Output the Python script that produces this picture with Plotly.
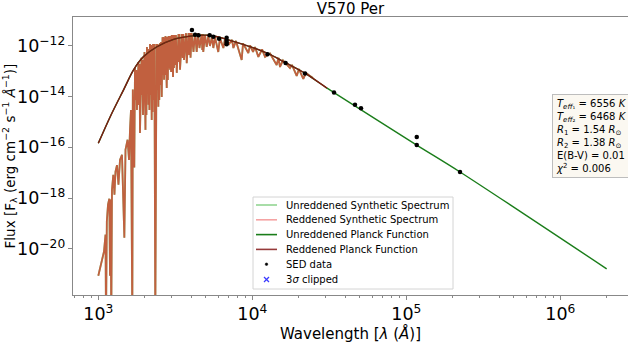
import plotly.graph_objects as go

# ---------------- data ----------------
spec_wave = [1000, 1041, 1089, 1114, 1122, 1136, 1156, 1179, 1191, 1203, 1214, 1227, 1251, 1273,
             1293, 1322, 1352, 1383, 1425, 1476, 1502, 1549, 1583, 1606, 1630, 1663, 1675, 1713,
             1730, 1750, 1765, 1782, 1823, 1838, 1852, 1865, 1908, 1922, 1936, 1951, 1995, 2024,
             2037, 2053, 2070, 2087, 2102, 2118, 2131, 2147, 2166, 2186, 2202, 2222, 2236, 2249,
             2266, 2289, 2313, 2345, 2388, 2409, 2430, 2455, 2471, 2489, 2518, 2538, 2557, 2582,
             2612, 2631, 2651, 2673, 2691, 2711, 2731, 2782, 2802, 2827, 2858, 2878, 2900, 2924,
             2944, 2970, 2999, 3057, 3078, 3101, 3126, 3158, 3191, 3231, 3318, 3342, 3367, 3394,
             3495, 3532, 3564, 3602, 3713, 3751, 3855, 3893, 3928, 3972, 4038, 4150, 4245, 4355,
             4440, 4540, 4692, 4734, 4770, 4805, 4930, 5058, 5178, 5309, 5470, 5585, 5728, 6012,
             6166, 6486, 6651, 7063, 7385, 7536, 7834, 8531, 8706, 9424, 9664, 10112, 10417, 10946,
             11570, 12100, 13040, 14400, 14790, 15130, 15820, 17570, 18100, 19420, 20100, 21430,
             22320, 23700, 24780]
spec_flux = [8.7e-22, 2.4e-21, 7.8e-21, 3.6e-20, 1e-23, 1.2e-19, 5.5e-19, 9.5e-19, 8.7e-22, 8.7e-19,
             1e-23, 2.1e-18, 8.3e-18, 1.35e-18, 1.1e-17, 2.0e-17, 3.4e-18, 3.2e-17, 5.1e-17, 2.75e-20,
             8.1e-17, 2.0e-16, 3.2e-17, 4.9e-16, 3.0e-15, 1e-23, 1.9e-14, 1.6e-17,
             1.35e-13, 7.45e-15, 1.13e-13, 3.0e-15, 2.3e-13, 4.73e-15, 1.95e-13, 3.7e-16, 3.4e-13,
             1.17e-14, 2.8e-13, 1.9e-15, 5.8e-13, 4.9e-16,
             4.4e-13, 1.91e-15, 9.1e-13, 1.85e-14, 7.6e-13, 4.8e-15, 6.95e-13, 3.0e-15, 1.2e-12,
             1.17e-14, 1.09e-12, 1.2e-15, 1.0e-12, 2.5e-15,
             1.2e-12, 7.45e-15, 1.2e-12, 1e-23, 1.2e-12, 1.85e-14, 1.2e-12, 4.0e-15, 1.09e-12,
             7.45e-15, 1.3e-12, 2.9e-14, 1.44e-12, 9.8e-15,
             2.2e-12, 7.2e-14, 2.26e-12, 4.6e-14, 2.07e-12, 7.2e-14, 2.45e-12, 2.2e-14, 2.26e-12,
             4.57e-14, 2.45e-12, 1.36e-13, 2.48e-12, 1.15e-13,
             2.48e-12, 9.4e-14, 2.7e-12, 6.0e-14, 2.71e-12, 1.36e-13, 2.7e-12, 1.78e-13, 2.71e-12,
             8.7e-14, 2.95e-12, 2.34e-13, 2.97e-12, 1.15e-13,
             2.95e-12, 3.37e-13, 2.97e-12, 2.8e-13, 3.2e-12, 2.1e-13, 3.2e-12, 4.4e-13, 3.25e-12,
             3.4e-13, 3.2e-12, 5.8e-13, 3.2e-12, 5.8e-13,
             3.2e-12, 8.3e-13, 2.95e-12, 6.95e-13, 2.97e-12, 5.8e-13, 2.7e-12, 9.1e-13, 2.45e-12,
             1.0e-12, 2.24e-12, 8.3e-13, 2.24e-12, 5.8e-13,
             2.04e-12, 8.3e-13, 1.9e-12, 1.2e-12, 1.74e-12, 8.3e-13, 1.58e-12, 2.8e-13, 1.26e-12,
             5.25e-13, 1.05e-12, 5.8e-13, 9.1e-13, 3.7e-13,
             7.3e-13, 3.7e-13, 5.0e-13, 1.78e-13, 3.4e-13, 1.48e-13, 2.7e-13, 1.35e-13, 1.78e-13,
             6.6e-14, 1.23e-13, 5.0e-14,
             8.7e-14, 6.6e-14, 5.5e-14]

planck_wave = [1000, 1197, 1459, 1694, 1968, 2404, 3083, 3954, 5284, 6813, 12560, 16450,
               21980, 30550, 33930, 116900, 223300, 2000000]
planck_flux = [1.45e-16, 1.66e-15, 1.86e-14, 1.135e-13, 3.8e-13, 9.3e-13, 1.82e-12, 2.45e-12,
               2.63e-12, 1.82e-12, 5.1e-13, 2.19e-13, 8.5e-14, 2.16e-14, 1.45e-14, 1.23e-16,
               1.07e-17, 1.62e-21]
red_planck_wave = planck_wave[:14]
red_planck_flux = planck_flux[:14]

sed_wave = [4055, 4250, 4477, 5284, 5585, 6083, 6813, 6813, 6813, 6813, 12560, 16450, 21980,
            33930, 46420, 50800, 116900, 116900, 223300]
sed_flux = [4.27e-12, 2.79e-12, 2.66e-12, 2.63e-12, 2.32e-12, 1.94e-12, 2.12e-12, 1.62e-12,
            1.35e-12, 1.17e-12, 4.71e-13, 2.14e-13, 8.13e-14, 1.45e-14, 4.75e-15, 3.52e-15,
            2.55e-16, 1.23e-16, 1.07e-17]
clipped_wave = []
clipped_flux = []

title = "V570 Per"
legend_names = ["Unreddened Synthetic Spectrum", "Reddened Synthetic Spectrum",
                "Unreddened Planck Function", "Reddened Planck Function",
                "SED data", "3<i>σ</i> clipped"]
legend_kinds = ["line", "line", "line", "line", "dot", "x"]
legend_colors = ["#93d593", "#f5a3a3", "#1a7d1a", "#963a3a", "black", "#3a3aff"]
info_lines = ["<i>T</i><sub><i>eff</i>₁</sub> = 6556 <i>K</i>",
              "<i>T</i><sub><i>eff</i>₂</sub> = 6468 <i>K</i>",
              "<i>R</i><sub>1</sub> = 1.54 <i>R</i><sub>⊙</sub>",
              "<i>R</i><sub>2</sub> = 1.38 <i>R</i><sub>⊙</sub>",
              "E(B-V) = 0.01",
              "<i>χ</i><sup>2</sup> = 0.006"]

FONT = "DejaVu Sans"
SPEC_COL = "#c1603f"

# plot-area geometry (pixels) used to place the hand-built legend
L, R, T, B = 73, 628, 17, 295
W, H = R - L, B - T
def px(x):
    return (x - L) / W
def py(y):
    return (B - y) / H

fig = go.Figure()
fig.add_trace(go.Scatter(x=spec_wave, y=spec_flux, mode="lines", name=legend_names[0],
                         line=dict(color="#93d593", width=1.8)))
fig.add_trace(go.Scatter(x=spec_wave, y=spec_flux, mode="lines", name=legend_names[1],
                         line=dict(color=SPEC_COL, width=1.8)))
fig.add_trace(go.Scatter(x=planck_wave, y=planck_flux, mode="lines", name=legend_names[2],
                         line=dict(color="#1a7d1a", width=1.4, shape="spline", smoothing=0.8)))
fig.add_trace(go.Scatter(x=red_planck_wave, y=red_planck_flux, mode="lines", name=legend_names[3],
                         line=dict(color="#7e1a12", width=1.4, shape="spline", smoothing=0.8)))
fig.add_trace(go.Scatter(x=sed_wave, y=sed_flux, mode="markers", name=legend_names[4],
                         marker=dict(color="black", size=4.5)))
fig.add_trace(go.Scatter(x=clipped_wave, y=clipped_flux, mode="markers", name=legend_names[5],
                         marker=dict(color="blue", symbol="x-thin", size=5, line=dict(color="blue", width=1))))

fig.update_layout(
    width=628, height=347,
    margin=dict(l=L, r=628 - R, t=T, b=347 - B),
    plot_bgcolor="white", paper_bgcolor="white",
    font=dict(family=FONT, color="black"),
    title=dict(text=title, x=0.5, xref="paper", xanchor="center", y=0.975, yanchor="middle",
               font=dict(size=15, family=FONT)),
    showlegend=False,
)
fig.update_xaxes(type="log", range=[2.8357, 6.4396], showline=True, linecolor="#888", linewidth=1,
                 mirror=True, ticks="outside", ticklen=4, tickcolor="#888", dtick=1,
                 exponentformat="power", showgrid=False, zeroline=False,
                 tickfont=dict(size=14, family=FONT),
                 minor=dict(ticks="outside", ticklen=2, tickcolor="#888", dtick="D1", showgrid=False),
                 title=dict(text="Wavelength [<i>λ</i> (<i>Å</i>)]", font=dict(size=15, family=FONT), standoff=2))
fig.update_yaxes(type="log", range=[-21.823, -10.858], showline=True, linecolor="#888", linewidth=1,
                 mirror=False, ticks="outside", ticklen=4, tickcolor="#888", dtick=2,
                 exponentformat="power", showgrid=False, zeroline=False,
                 tickfont=dict(size=14, family=FONT),
                 title=dict(text="Flux [F<sub>λ</sub> (erg cm<sup>−2</sup> s<sup>−1</sup> <i>Å</i><sup>−1</sup>)]",
                            font=dict(size=13.5, family=FONT), standoff=8))

# hand-built legend box (matches matplotlib spacing)
fig.add_shape(type="rect", xref="paper", yref="paper", x0=px(253), x1=px(453), y0=py(289), y1=py(197),
              fillcolor="rgba(255,255,255,0.85)", line=dict(color="#d4d4d4", width=1), layer="above")
row_y = [205, 219.8, 234.6, 249.4, 264.2, 279.5]
for name, kind, col, yy in zip(legend_names, legend_kinds, legend_colors, row_y):
    if kind == "line":
        fig.add_shape(type="line", xref="paper", yref="paper", x0=px(256), x1=px(277), y0=py(yy), y1=py(yy),
                      line=dict(color=col, width=1.6), layer="above")
    elif kind == "dot":
        fig.add_shape(type="circle", xref="paper", yref="paper", x0=px(265.2), x1=px(267.8),
                      y0=py(yy + 1.3), y1=py(yy - 1.3), fillcolor=col, line=dict(color=col, width=0.5),
                      layer="above")
    else:
        for a, b in [(-2.5, 2.5), (2.5, -2.5)]:
            fig.add_shape(type="line", xref="paper", yref="paper", x0=px(266.5 - 2.5), x1=px(266.5 + 2.5),
                          y0=py(yy + a), y1=py(yy + b), line=dict(color=col, width=1.2), layer="above")
    fig.add_annotation(text=name, xref="paper", yref="paper", x=px(283.5), y=py(yy), xanchor="left",
                       yanchor="middle", showarrow=False, font=dict(size=10, family=FONT))

fig.add_annotation(text="<br>".join(info_lines), xref="paper", yref="paper",
                   x=(552 - 73) / 555, y=(295 - 94) / 278, xanchor="left", yanchor="top",
                   align="left", showarrow=False, font=dict(size=10, family=FONT),
                   bgcolor="#fbf8f1", bordercolor="#bdbdbd", borderwidth=1, borderpad=3)

fig.write_html("out.html")
